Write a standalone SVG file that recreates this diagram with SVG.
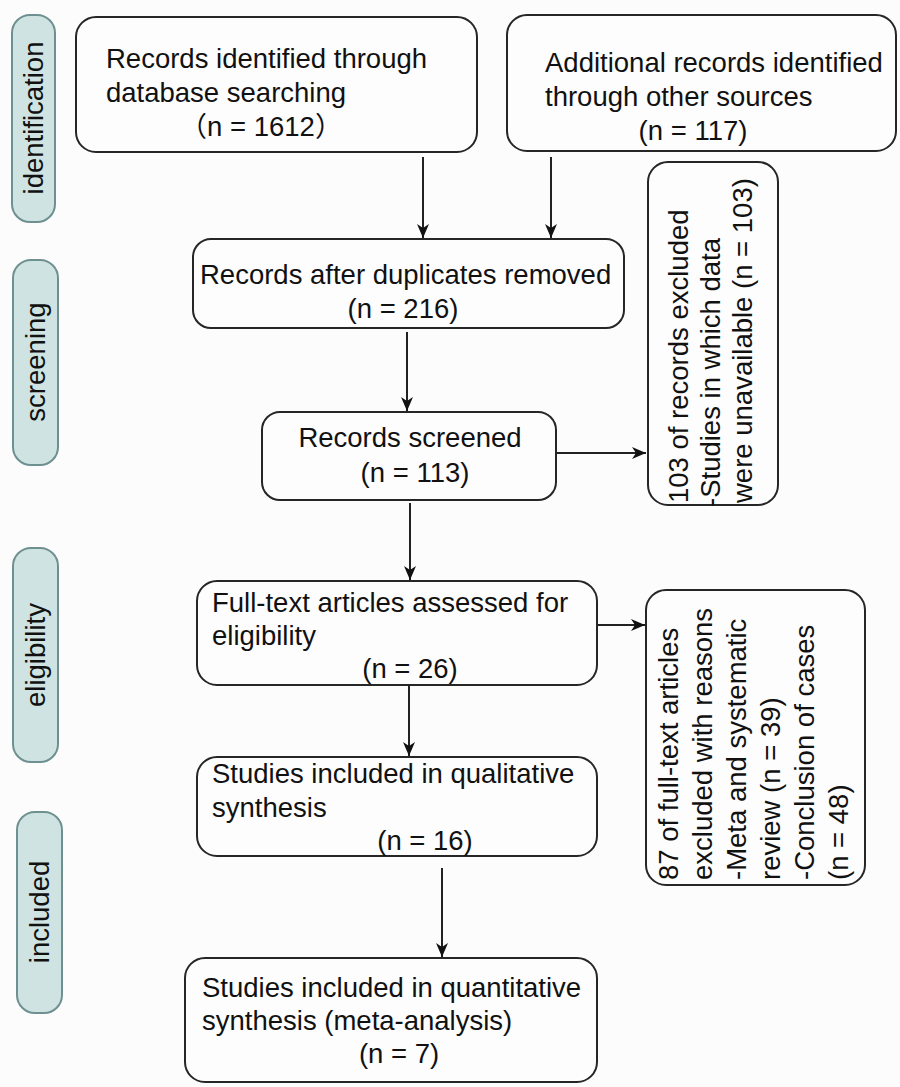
<svg xmlns="http://www.w3.org/2000/svg" width="900" height="1087" viewBox="0 0 900 1087">
<defs>
<style>
.bg{fill:#fcfcfd}
.lab rect{fill:#cfe4e2;stroke:#6f9091;stroke-width:2}
.box rect{fill:#fdfdfd;stroke:#262626;stroke-width:2}
text{font-family:"Liberation Sans",Arial,"Noto Sans CJK SC",sans-serif;font-size:27.5px;fill:#111}
.mid{text-anchor:middle}
.conn line{stroke:#222;stroke-width:2;fill:none}
</style>
<marker id="ah" markerUnits="userSpaceOnUse" markerWidth="14" markerHeight="12" refX="14" refY="6" orient="auto">
<path d="M0,0 L14,6 L0,12 L4,6 z" fill="#111"/>
</marker>
</defs>
<rect class="bg" x="0" y="0" width="900" height="1087"/>

<g id="label-identification" class="lab">
<rect x="12" y="15" width="43" height="207" rx="18"/>
<text class="mid" transform="translate(43,118) rotate(-90)">identification</text>
</g>
<g id="label-screening" class="lab">
<rect x="13" y="260" width="45" height="205" rx="18"/>
<text class="mid" transform="translate(45,362) rotate(-90)">screening</text>
</g>
<g id="label-eligibility" class="lab">
<rect x="13" y="548" width="45" height="214" rx="18"/>
<text class="mid" transform="translate(45,655) rotate(-90)">eligibility</text>
</g>
<g id="label-included" class="lab">
<rect x="17" y="812" width="45" height="201" rx="18"/>
<text class="mid" transform="translate(49,912) rotate(-90)">included</text>
</g>

<g id="box-database" class="box">
<rect x="76" y="17" width="401" height="135" rx="20"/>
<text x="106" y="68">Records identified through</text>
<text x="106" y="102">database searching</text>
<text class="mid" x="261" y="136">（n = 1612）</text>
</g>
<g id="box-other" class="box">
<rect x="507" y="15" width="389" height="136" rx="20"/>
<text x="545" y="72">Additional records identified</text>
<text x="545" y="106">through other sources</text>
<text class="mid" x="693" y="140">(n = 117)</text>
</g>
<g id="box-duplicates" class="box">
<rect x="193" y="239" width="431" height="89" rx="18"/>
<text x="200" y="284">Records after duplicates removed</text>
<text class="mid" x="403" y="318">(n = 216)</text>
</g>
<g id="box-screened" class="box">
<rect x="262" y="412" width="294" height="88" rx="18"/>
<text class="mid" x="410" y="447">Records screened</text>
<text class="mid" x="415" y="482">(n = 113)</text>
</g>
<g id="box-excluded1" class="box">
<rect x="648" y="162" width="130" height="343" rx="20"/>
<text transform="translate(688,503) rotate(-90)">103 of records excluded</text>
<text transform="translate(720,507) rotate(-90)">-Studies in which data</text>
<text transform="translate(752,503) rotate(-90)">were unavailable (n = 103)</text>
</g>
<g id="box-fulltext" class="box">
<rect x="197" y="581" width="400" height="104" rx="20"/>
<text x="212" y="612">Full-text articles assessed for</text>
<text x="212" y="645">eligibility</text>
<text class="mid" x="410" y="678">(n = 26)</text>
</g>
<g id="box-excluded2" class="box">
<rect x="646" y="590" width="219" height="295" rx="20"/>
<text transform="translate(678,880) rotate(-90)">87 of full-text  articles</text>
<text transform="translate(712,880) rotate(-90)">excluded with reasons</text>
<text transform="translate(746,880) rotate(-90)">-Meta and systematic</text>
<text transform="translate(780,880) rotate(-90)">review (n = 39)</text>
<text transform="translate(814,880) rotate(-90)">-Conclusion of cases</text>
<text transform="translate(848,880) rotate(-90)">(n = 48)</text>
</g>
<g id="box-qualitative" class="box">
<rect x="197" y="757" width="400" height="99" rx="20"/>
<text x="212" y="783">Studies included in qualitative</text>
<text x="212" y="817">synthesis</text>
<text class="mid" x="425" y="850">(n = 16)</text>
</g>
<g id="box-quantitative" class="box">
<rect x="185" y="958" width="412" height="124" rx="20"/>
<text x="202" y="997">Studies included in quantitative</text>
<text x="202" y="1030">synthesis (meta-analysis)</text>
<text class="mid" x="399" y="1063">(n = 7)</text>
</g>

<g id="connectors" class="conn">
<line x1="423" y1="157" x2="423" y2="238" marker-end="url(#ah)"/>
<line x1="551" y1="157" x2="551" y2="238" marker-end="url(#ah)"/>
<line x1="407" y1="332" x2="407" y2="411" marker-end="url(#ah)"/>
<line x1="556" y1="453" x2="646" y2="453" marker-end="url(#ah)"/>
<line x1="410" y1="503" x2="410" y2="580" marker-end="url(#ah)"/>
<line x1="597" y1="625" x2="645" y2="625" marker-end="url(#ah)"/>
<line x1="409" y1="685" x2="409" y2="756" marker-end="url(#ah)"/>
<line x1="442" y1="868" x2="442" y2="957" marker-end="url(#ah)"/>
</g>
</svg>
